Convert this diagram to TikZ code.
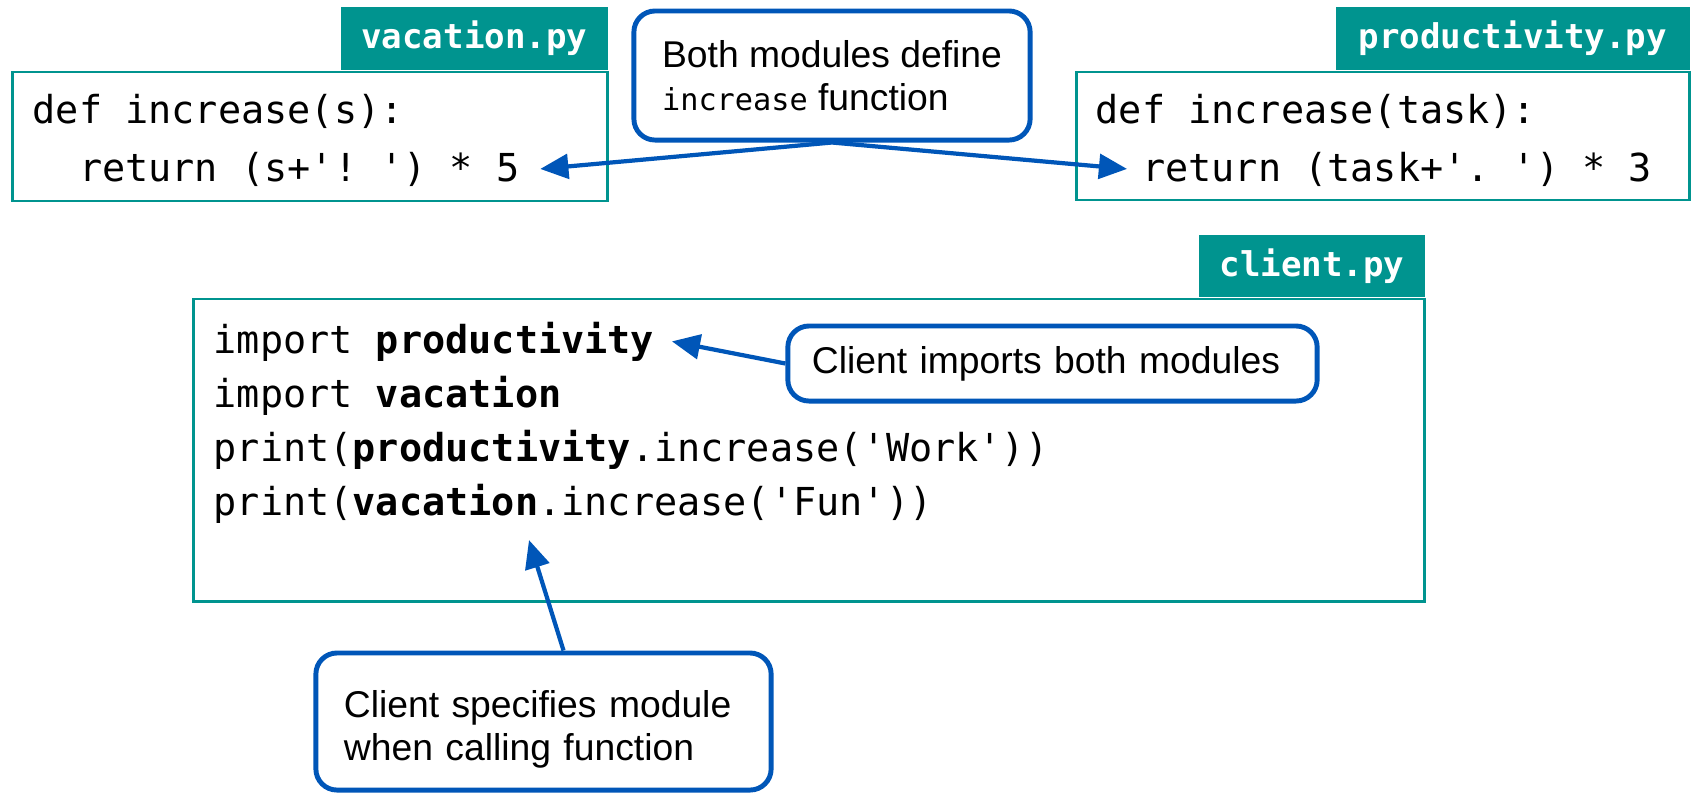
\documentclass[tikz, border=0pt]{standalone}
\usepackage{fontspec}
\setmainfont{Liberation Sans}
\setmonofont{DejaVu Sans Mono}
\usetikzlibrary{arrows.meta}

\definecolor{tabteal}{RGB}{0, 148, 143}
\definecolor{noteblue}{RGB}{0, 86, 184}

\tikzset{
	codebox/.style = {rectangle, draw = tabteal, line width = 0.8pt},
	filetab/.style = {rectangle, fill = tabteal, text = white, anchor = south east, font = \ttfamily\bfseries\fontsize{9.7}{12}\selectfont},
	codeline/.style = {anchor = base west, inner sep = 0pt, font = \ttfamily\frenchspacing\fontsize{10.95}{13}\selectfont},
	note/.style = {rectangle, draw = noteblue, line width = 1.4pt, rounded corners = 6pt, align = left, fill = white, font = \fontsize{10.6}{12.3}\selectfont},
	pointer/.style = {->, noteblue, line width = 1.2pt}
}

\begin{document}
\begin{tikzpicture}[x = 0.01cm, y = -0.01cm, > = {Triangle[length = 8pt, width = 7pt]}]

\useasboundingbox (0, 0) rectangle (1692, 793);

% The module vacation.py

\node [codebox, minimum width = 5.94cm, minimum height = 1.29cm] (vac) at (310, 136.5) {};
\node [filetab, minimum width = 2.67cm, minimum height = 0.63cm] (vac-tab) at (vac.north east) {vacation.py};
\node [codeline] (vac-1) at (32, 123) {def increase(s):};
\node [codeline] (vac-2) at (32, 181) {\ \ return (s+'! ') * 5};

% The module productivity.py

\node [codebox, minimum width = 6.12cm, minimum height = 1.28cm] (prod) at (1383, 136) {};
\node [filetab, minimum width = 3.54cm, minimum height = 0.63cm] (prod-tab) at (prod.north east) {productivity.py};
\node [codeline] (prod-1) at (1095, 123) {def increase(task):};
\node [codeline] (prod-2) at (1095, 181) {\ \ return (task+'. ') * 3};

% The client

\node [codebox, minimum width = 12.30cm, minimum height = 3.02cm] (cli) at (809, 450) {};
\node [filetab, minimum width = 2.26cm, minimum height = 0.62cm] (cli-tab) at (cli.north east) {client.py};
\node [codeline] (cli-1) at (213, 353) {import \textbf{productivity}};
\node [codeline] (cli-2) at (213, 407) {import \textbf{vacation}};
\node [codeline] (cli-3) at (213, 461) {print(\textbf{productivity}.increase('Work'))};
\node [codeline] (cli-4) at (213, 515) {print(\textbf{vacation}.increase('Fun'))};
\coordinate (call-vac) at (529, 540);

% The callouts

\node [note, minimum width = 3.96cm, minimum height = 1.29cm] (note-def) at (832, 75.5) {Both modules define\\{\ttfamily\fontsize{8.6}{12}\selectfont increase} function};
\node [note, minimum height = 0.75cm, inner xsep = 0.24cm, text width = 4.81cm] (note-imp) at (1052.5, 363.5) {Client imports both modules};
\node [note, minimum height = 1.37cm, inner xsep = 0.28cm, text width = 3.99cm] (note-spec) at (543.5, 721.5) {\rule{0pt}{0.42cm}Client specifies module\\when calling function};

% Pointers

\draw [pointer] (note-def.south) -- ([xshift = 0.2cm] vac-2.east);
\draw [pointer] (note-def.south) -- ([xshift = 0.32cm] prod-2.west);
\draw [pointer] (note-imp.west) -- ([xshift = 0.17cm] cli-1.east);
\draw [pointer] ([xshift = 0.2cm] note-spec.north) -- (call-vac);

\end{tikzpicture}
\end{document}
